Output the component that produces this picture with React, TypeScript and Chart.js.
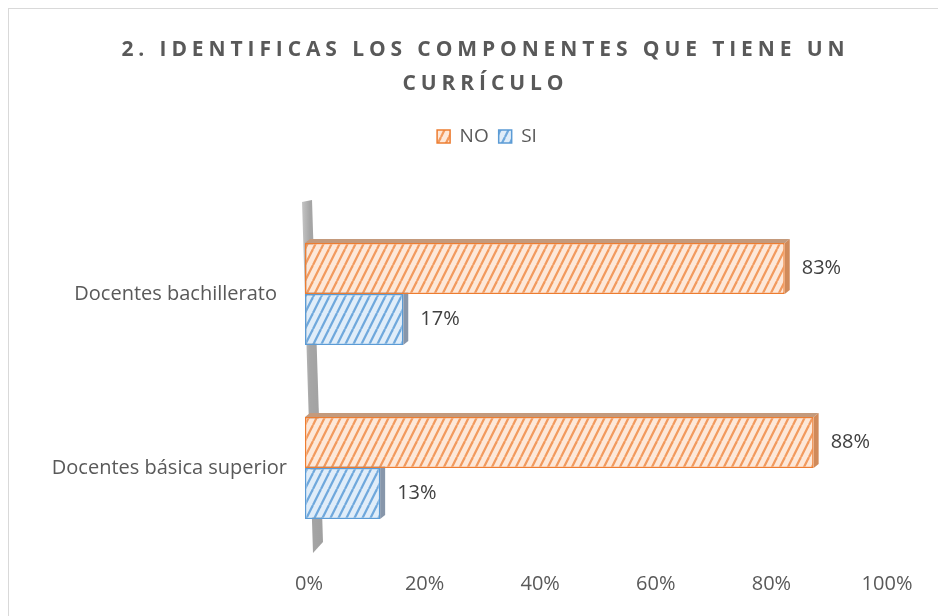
import React, { useEffect, useRef } from "react";
import { Chart, registerables } from "chart.js";

Chart.register(...registerables);

const titleLines = ["2. IDENTIFICAS LOS COMPONENTES QUE TIENE UN", "CURRÍCULO"];
const categories = ["Docentes bachillerato", "Docentes básica superior"];
const seriesNames = ["NO", "SI"];
const noValues = [83, 88];
const siValues = [17, 13];
const xTicks = [0, 20, 40, 60, 80, 100];

const FONT = "'Open Sans', 'Liberation Sans', sans-serif";
const DEPTH = 5;
const TITLE_SPACING = 4.9;

function makePattern(ctx: CanvasRenderingContext2D, bg: string, fg: string) {
  const c = document.createElement("canvas");
  c.width = 8;
  c.height = 16;
  const g = c.getContext("2d")!;
  g.fillStyle = bg;
  g.fillRect(0, 0, 8, 16);
  g.strokeStyle = fg;
  g.lineWidth = 2.2;
  for (const ox of [-8, 0, 8]) {
    g.beginPath();
    g.moveTo(ox, 16);
    g.lineTo(ox + 8, 0);
    g.stroke();
  }
  return ctx.createPattern(c, "repeat")!;
}

export default function App() {
  const ref = useRef<HTMLCanvasElement>(null);

  useEffect(() => {
    const canvas = ref.current!;
    const ctx = canvas.getContext("2d")!;
    const orangePat = makePattern(ctx, "#FDE8D9", "#F29A5E");
    const bluePat = makePattern(ctx, "#E0EDF9", "#6FA8DC");

    const sideColors = [
      { top: "#C49A7C", side: "#D08A5A" },
      { top: "#8FA0B5", side: "#8796AA" },
    ];

    const legendGap = {
      id: "legendGap",
      afterInit(chart: any) {
        const l = chart.legend;
        const orig = l.fit;
        l.fit = function () {
          orig.call(this);
          this.height += 51;
        };
      },
      beforeDraw(chart: any) {
        const l = chart.legend;
        l.left = 0;
        l.right = chart.width + 22;
      },
    };

    const decor = {
      id: "decor",
      beforeDatasetsDraw(chart: any) {
        const c = chart.ctx;
        const a = chart.chartArea;
        c.save();
        const grad = c.createLinearGradient(a.left - 4, 0, a.left + 18, 0);
        grad.addColorStop(0, "#C8C8C8");
        grad.addColorStop(0.4, "#A6A6A6");
        grad.addColorStop(1, "#A0A0A0");
        c.fillStyle = grad;
        c.beginPath();
        c.moveTo(a.left - 3, a.top - 5);
        c.lineTo(a.left + 7, a.top - 7);
        c.lineTo(a.left + 18, a.bottom - 13);
        c.lineTo(a.left + 8, a.bottom - 2);
        c.closePath();
        c.fill();
        chart.data.datasets.forEach((_: any, di: number) => {
          const meta = chart.getDatasetMeta(di);
          meta.data.forEach((el: any) => {
            const p = el.getProps(["x", "y", "base", "height"], true);
            const top = p.y - p.height / 2;
            const bot = p.y + p.height / 2;
            c.fillStyle = sideColors[di].top;
            c.beginPath();
            c.moveTo(p.base, top);
            c.lineTo(p.base + DEPTH, top - DEPTH + 1);
            c.lineTo(p.x + DEPTH, top - DEPTH + 1);
            c.lineTo(p.x, top);
            c.closePath();
            c.fill();
            c.fillStyle = sideColors[di].side;
            c.beginPath();
            c.moveTo(p.x, top);
            c.lineTo(p.x + DEPTH, top - DEPTH + 1);
            c.lineTo(p.x + DEPTH, bot - DEPTH + 1);
            c.lineTo(p.x, bot);
            c.closePath();
            c.fill();
          });
        });
        c.restore();
      },
      afterDraw(chart: any) {
        const c = chart.ctx;
        const a = chart.chartArea;
        c.save();
        c.fillStyle = "#595959";
        c.font = `bold 21px ${FONT}`;
        (c as any).letterSpacing = TITLE_SPACING + "px";
        c.textAlign = "left";
        c.textBaseline = "middle";
        const cx = chart.width / 2 + 7;
        const ys = [41, 75];
        titleLines.forEach((t, i) => {
          const w = c.measureText(t).width - TITLE_SPACING;
          c.fillText(t, cx - w / 2, ys[i]);
        });
        (c as any).letterSpacing = "0px";
        c.font = `20px ${FONT}`;
        c.fillStyle = "#595959";
        c.textAlign = "right";
        const yScale = chart.scales.y;
        categories.forEach((cat, i) => {
          const y = yScale.getPixelForValue(i);
          const x = a.left - 33 + (y - a.top) * 0.0575;
          c.fillText(cat, x, y);
        });
        c.fillStyle = "#404040";
        c.textAlign = "left";
        chart.data.datasets.forEach((ds: any, di: number) => {
          const meta = chart.getDatasetMeta(di);
          meta.data.forEach((el: any, j: number) => {
            const p = el.getProps(["x", "y"], true);
            c.fillText(ds.data[j] + "%", p.x + DEPTH + 12, p.y);
          });
        });
        c.restore();
      },
    };

    const chart = new Chart(canvas, {
      type: "bar",
      data: {
        labels: categories,
        datasets: [
          {
            label: seriesNames[0],
            data: noValues,
            backgroundColor: orangePat as any,
            borderColor: "#ED7D31",
            borderWidth: 1.5,
            borderSkipped: false,
          },
          {
            label: seriesNames[1],
            data: siValues,
            backgroundColor: bluePat as any,
            borderColor: "#5B9BD5",
            borderWidth: 1.5,
            borderSkipped: false,
          },
        ],
      },
      options: {
        indexAxis: "y",
        responsive: false,
        animation: false,
        devicePixelRatio: 1,
        layout: { padding: { top: 108, left: 296, right: 60, bottom: 6 } },
        datasets: { bar: { barPercentage: 1, categoryPercentage: 0.586 } },
        scales: {
          x: {
            min: 0,
            max: 100,
            afterBuildTicks: (s: any) => {
              s.ticks = xTicks.map((v) => ({ value: v }));
            },
            ticks: {
              callback: (v: any) => v + "%",
              font: { family: FONT, size: 20 },
              color: "#595959",
              padding: 17,
              labelOffset: 4,
            },
            grid: { display: false, drawTicks: false },
            border: { display: false },
          },
          y: {
            display: false,
            grid: { display: false },
          },
        },
        plugins: {
          title: { display: false },
          tooltip: { enabled: false },
          legend: {
            display: true,
            position: "top",
            labels: {
              boxWidth: 13,
              boxHeight: 13,
              padding: 10,
              color: "#595959",
              font: { family: FONT, size: 19 },
            },
          },
        },
      },
      plugins: [legendGap, decor],
    });
    return () => chart.destroy();
  }, []);

  return (
    <div
      style={{
        width: 936,
        height: 612,
        border: "1px solid #D9D9D9",
        boxSizing: "border-box",
        background: "#fff",
      }}
    >
      <canvas ref={ref} width={934} height={610} style={{ display: "block" }} />
    </div>
  );
}
